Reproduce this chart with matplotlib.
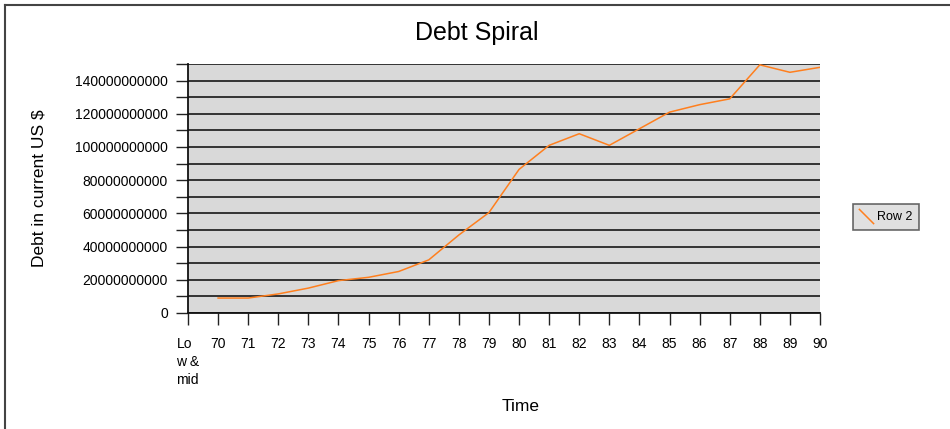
import numpy as np
from matplotlib import pyplot as plt
from matplotlib.path import Path
from matplotlib.lines import Line2D

plt.rcParams['font.family'] = ['Liberation Sans', 'DejaVu Sans']

categories = ["Lo\nw &\nmid", "70", "71", "72", "73", "74", "75", "76", "77", "78", "79",
              "80", "81", "82", "83", "84", "85", "86", "87", "88", "89", "90"]
# debt in current US $, first category has no value
debt = [np.nan, 9.0e9, 9.0e9, 11.5e9, 15.0e9, 19.5e9, 21.5e9, 25.0e9, 32.0e9, 47.0e9, 60.5e9,
        86.5e9, 101.0e9, 108.0e9, 101.0e9, 111.0e9, 121.0e9, 125.5e9, 129.0e9, 149.5e9, 145.0e9, 148.0e9]

x = np.arange(len(categories))
y = np.array(debt)

fig = plt.figure(figsize=(9.5, 4.29), dpi=100)
ax = fig.add_axes([188/950, 1 - 313/429, (820-188)/950, (313-64)/429])
ax.set_facecolor('#d9d9d9')

ax.plot(x, y, color='#ff7f1e', lw=1.1, label='Row 2')

ax.set_xlim(0, len(categories) - 1)
ax.set_ylim(0, 150e9)
ax.set_xticks(x)
ax.set_xticklabels(categories, fontsize=10, va='top', multialignment='left', linespacing=1.35)
yt = np.arange(0, 151e9, 10e9)
ax.set_yticks(yt)
ax.set_yticklabels([f"{int(v)}" if i % 2 == 0 else "" for i, v in enumerate(yt)], fontsize=10)
ax.tick_params(axis='both', length=8.5, width=1, color='#222222')
ax.tick_params(axis='x', pad=9)
ax.tick_params(axis='y', pad=6)
ax.yaxis.grid(True, color='#333333', lw=1.4)
ax.set_axisbelow(True)
for s in ['top', 'right']:
    ax.spines[s].set_visible(False)
for s in ['left', 'bottom']:
    ax.spines[s].set_color('#111111')
    ax.spines[s].set_linewidth(1.3)

ax.set_ylabel("Debt in current US $", fontsize=12.5)
ax.yaxis.set_label_coords(-(188-47)/632, 0.5)
ax.set_xlabel("Time", fontsize=12.5)
ax.xaxis.set_label_coords((521-188)/632, -(399-313)/249)

fig.text(477/950, 1 - 33/429, "Debt Spiral", fontsize=18, ha='center', va='center')

# legend with a slanted line glyph
slash = Path([(-1, 1), (1, -1)], [Path.MOVETO, Path.LINETO])
handle = Line2D([], [], color='#ff7f1e', lw=0, marker=slash, markersize=11, markeredgewidth=1.1)
leg = fig.legend([handle], ["Row 2"], loc='center', bbox_to_anchor=(886/950, 1 - 217/429),
                 fontsize=9, frameon=True, fancybox=False, handlelength=1.0,
                 handletextpad=0.4, borderpad=0.55, borderaxespad=0)
leg.get_frame().set_facecolor('#d9d9d9')
leg.get_frame().set_edgecolor('#444444')
leg.get_frame().set_linewidth(1.2)

# outer border along the top and left edges
fig.add_artist(Line2D([5/950, 5/950], [0, 1 - 5/429], color='#444444', lw=1.5, transform=fig.transFigure))
fig.add_artist(Line2D([5/950, 1], [1 - 5/429, 1 - 5/429], color='#444444', lw=1.5, transform=fig.transFigure))

fig.savefig('out.png', dpi=100)
